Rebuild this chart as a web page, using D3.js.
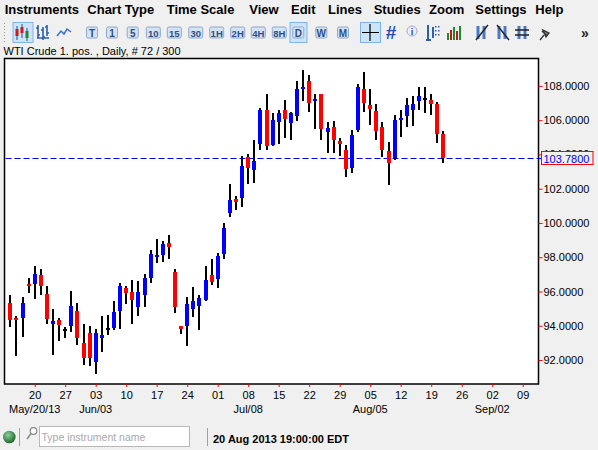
<!DOCTYPE html>
<html lang="en">
<head>
<meta charset="utf-8">
<title>WTI Crude 1. pos. , Daily</title>
<style>
  html,body { margin:0; padding:0; overflow:hidden; background:#f0f0f0; }
  svg { display:block; font-family:"Liberation Sans", Arial, sans-serif; }
  .menu text { font-size:13px; font-weight:bold; fill:#000; }
  .axis text { font-size:11px; fill:#000; font-family:"Liberation Sans", Arial, sans-serif; }
  .axis line { stroke:#ff0000; }
  .axis path { display:none; }
</style>
<script src="https://d3js.org/d3.v7.min.js"></script>
</head>
<body>
<svg width="598" height="450"></svg>
<script>
// ---- data (daily WTI bars, 14 May 2013 .. 21 Aug 2013) ----
const firstDay = "2013-05-14";
const lastSlot = "2013-09-09";   // axis runs a few weeks past the last bar

const opens  = [95.34,94.47,94.45,96.45,96.45,96.96,95.87,94.12,94.35,93.79,
                94.00,94.86,92.99,93.58,91.91,93.30,93.85,93.89,94.88,96.20,
                95.99,95.07,95.81,96.80,98.05,98.12,98.82,97.13,93.98,94.00,
                94.99,95.17,95.50,96.96,96.70,98.16,100.59,101.38,101.46,103.83,
                103.08,104.59,106.57,104.53,105.89,106.57,105.83,106.22,107.82,108.26,
                107.12,107.54,105.29,105.60,104.79,104.28,103.23,105.41,107.83,106.86,
                106.53,105.60,104.20,103.81,105.99,106.22,106.57,107.12,107.31,107.15,
                106.96,105.17];
const highs  = [95.79,94.55,95.69,96.78,97.50,97.30,96.32,94.99,94.47,93.91,
                96.02,95.34,94.10,93.99,93.79,94.57,94.63,95.44,96.49,96.33,
                96.65,96.59,97.01,98.40,99.05,98.96,99.29,97.33,93.98,95.66,
                96.27,95.79,97.48,97.91,98.22,99.97,102.26,101.56,103.89,104.01,
                104.86,106.73,107.50,106.42,106.61,107.19,106.47,108.28,108.94,108.61,
                107.54,107.54,105.87,105.95,104.98,104.53,105.41,108.09,108.81,107.83,
                106.95,105.89,104.75,106.28,106.57,107.29,107.39,107.93,107.93,107.54,
                107.06,105.37];
const lows   = [93.94,92.24,93.32,95.89,95.56,95.79,94.10,92.30,93.13,93.29,
                93.62,92.90,91.71,91.67,91.17,92.49,93.46,93.75,93.79,95.29,
                94.12,94.59,95.11,96.51,97.67,97.73,97.87,94.72,93.52,92.84,
                94.50,93.75,95.44,96.37,96.18,97.87,100.36,100.75,100.94,102.30,
                102.34,104.24,104.28,104.47,104.63,104.98,104.82,105.95,107.12,106.47,
                105.46,104.82,104.09,104.09,103.89,102.69,102.94,105.31,106.47,105.70,
                104.86,103.85,102.20,103.70,105.02,105.60,105.64,106.61,106.42,106.28,
                104.67,103.50];
const closes = [94.33,94.42,95.35,96.40,97.01,96.32,94.37,94.29,94.06,93.79,
                95.15,93.30,92.14,92.14,93.58,93.46,93.85,94.80,96.32,95.93,
                95.52,95.97,96.78,98.18,98.15,98.76,98.61,95.11,93.83,95.27,
                95.44,95.64,96.67,96.57,98.06,99.70,101.33,101.21,103.31,103.21,
                103.60,106.57,104.47,105.99,106.42,106.09,106.42,107.83,107.93,107.00,
                107.25,105.46,105.52,104.82,104.59,103.13,105.12,107.93,107.00,106.63,
                105.37,104.24,103.50,106.03,106.15,106.86,106.96,107.39,107.31,106.96,
                105.17,103.78];

const lastPrice = 103.78;
const yTicks = [92, 94, 96, 98, 100, 102, 104, 106, 108];
const monthLabels     = ["May/20/13", "Jun/03", "Jul/08", "Aug/05", "Sep/02"];
const monthLabelDates = ["2013-05-20", "2013-06-03", "2013-07-08", "2013-08-05", "2013-09-02"];

const menuItems = ["Instruments","Chart Type","Time Scale","View","Edit","Lines","Studies","Zoom","Settings","Help"];
const menuX     = [4.7, 87.3, 166.7, 249.3, 291, 328, 373.7, 429, 475.3, 535.3];
const intervalButtons = ["T","1","5","10","15","30","1H","2H","4H","8H","D","W","M"];
const intervalX       = [92, 112, 132.7, 153.3, 174.3, 195.7, 216.7, 237.7, 258.3, 279.3, 298.3, 321.3, 343];

const title = "WTI Crude 1. pos. , Daily, # 72 / 300";
const statusText = "20 Aug 2013 19:00:00 EDT";

// ---- layout ----
const plot = { left: 4.5, top: 58.5, right: 538.5, bottom: 384 };
const svg = d3.select("svg");
const parse = d3.utcParse("%Y-%m-%d");

const slots = d3.utcDays(parse(firstDay), d3.utcDay.offset(parse(lastSlot), 1))
  .filter(d => d.getUTCDay() % 6 !== 0);

const bars = closes.map((c, i) => ({
  date: slots[i], open: opens[i], high: highs[i], low: lows[i], close: c
}));

const x = d3.scalePoint().domain(slots).range([10.3, 522.7]);
const y = d3.scaleLinear().domain([90.6, 109.6]).range([plot.bottom, plot.top]);

/* -------- menu bar -------- */
svg.append("g").attr("class", "menu")
  .selectAll("text").data(menuItems).join("text")
    .attr("x", (d, i) => menuX[i]).attr("y", 14)
    .text(d => d);

/* -------- toolbar -------- */
const tb = svg.append("g");
// grip
d3.range(23, 42, 3).forEach(yy =>
  tb.append("rect").attr("x", 4).attr("y", yy).attr("width", 1).attr("height", 1).attr("fill", "#9a9a9a"));

function selBox(x0, x1) {
  tb.append("rect").attr("x", x0 + 0.5).attr("y", 22.5).attr("width", x1 - x0).attr("height", 20)
    .attr("fill", "#cce4f7").attr("stroke", "#7eb4ea");
}
selBox(12.5, 32.5);
selBox(289.5, 306.5);
selBox(360, 380);

// candlestick icon
[[17, 26, 40, 29, 36, "#d01818"], [22, 24, 38, 27, 33, "#d01818"], [27, 28, 41, 31, 38, "#1f8a2a"]]
  .forEach(([cx, t, b, bt, bb, col]) => {
    tb.append("line").attr("x1", cx).attr("x2", cx).attr("y1", t).attr("y2", b).attr("stroke", "#2050a0");
    tb.append("rect").attr("x", cx - 1.5).attr("y", bt).attr("width", 3).attr("height", bb - bt).attr("fill", col);
  });
// ohlc bars icon
tb.append("path").attr("d", "M38,25V38M36,28H38M38,35H40M43,27V40M41,30H43M43,37H45M47,25V36M45,27H47M47,33H49M37,38H49")
  .attr("stroke", "#2b5fb0").attr("stroke-width", 1.6).attr("fill", "none");
// line icon
tb.append("path").attr("d", "M57,36L61,31L64,34L67,29L71,32")
  .attr("stroke", "#3b6fc0").attr("stroke-width", 1.5).attr("fill", "none");

// interval buttons
const btn = tb.selectAll("g.btn").data(intervalButtons).join("g")
  .attr("transform", (d, i) => `translate(${intervalX[i]},32.5)`);
btn.append("rect")
  .attr("x", d => d.length > 1 ? -7 : -5.5).attr("y", -5.5)
  .attr("width", d => d.length > 1 ? 14 : 11).attr("height", 11).attr("rx", 1.5)
  .attr("fill", "#d4e2f2").attr("stroke", "#8ea9cc");
btn.append("text")
  .attr("text-anchor", "middle").attr("y", 4)
  .attr("font-size", d => d.length > 1 ? 9.5 : 10).attr("font-weight", "bold")
  .attr("fill", "#2e4f86").text(d => d);

// crosshair
tb.append("path").attr("d", "M370,24V41M362,32.5H379").attr("stroke", "#000").attr("stroke-width", 1.2);
// grid #
tb.append("text").attr("x", 391).attr("y", 39).attr("text-anchor", "middle")
  .attr("font-size", 19).attr("font-weight", "bold").attr("fill", "#1c50b0").text("#");
// info balloon
tb.append("circle").attr("cx", 412).attr("cy", 31).attr("r", 5).attr("fill", "#eef").attr("stroke", "#aab");
tb.append("text").attr("x", 412).attr("y", 34.5).attr("text-anchor", "middle").attr("font-size", 9)
  .attr("font-weight", "bold").attr("fill", "#2040c0").text("i");
// levels icon
tb.append("path").attr("d", "M428,25V40M426,40H431M433,27V38")
  .attr("stroke", "#2b5fb0").attr("stroke-width", 2).attr("fill", "none");
[[435, 26], [438, 26], [435, 30], [438, 30], [435, 34], [438, 34]].forEach(([a, b]) =>
  tb.append("rect").attr("x", a).attr("y", b).attr("width", 1.5).attr("height", 1.5).attr("fill", "#2b5fb0"));
// volume icon
[[447, 33, "#1f8a2a"], [450, 30, "#c01818"], [453, 27, "#1f8a2a"], [456, 31, "#c01818"], [459, 26, "#1f8a2a"]]
  .forEach(([a, t, c]) => tb.append("rect").attr("x", a).attr("y", t).attr("width", 2).attr("height", 40 - t).attr("fill", c));
// drawing tools
[[481, "M478,26V39M484,26V39", "M476,40L488,25"],
 [502, "M499,26V39M505,26V39", "M497,25L509,40"],
 [522, "M519,26V39M525,26V39", "M515,30H529M515,35H529"]].forEach(([cx, bars2, ln]) => {
  tb.append("path").attr("d", bars2).attr("stroke", "#4a78c8").attr("stroke-width", 3);
  tb.append("path").attr("d", ln).attr("stroke", "#222").attr("stroke-width", 1.4);
});
// pin
tb.append("path").attr("d", "M540,40L544,35M542,31L547,36M543,30L549,33L546,37Z")
  .attr("stroke", "#333").attr("stroke-width", 1.3).attr("fill", "#777");
tb.append("text").attr("x", 585).attr("y", 38).attr("text-anchor", "middle")
  .attr("font-size", 14).attr("font-weight", "bold").attr("fill", "#222").text("»");

/* -------- chart title -------- */
svg.append("text").attr("x", 3.5).attr("y", 55).attr("font-size", 11).attr("fill", "#000").text(title);

/* -------- plot area -------- */
svg.append("rect")
  .attr("x", plot.left).attr("y", plot.top)
  .attr("width", plot.right - plot.left).attr("height", plot.bottom - plot.top)
  .attr("fill", "#fff").attr("stroke", "#000").attr("stroke-width", 1.5);

// last price line
const yl = Math.round(y(lastPrice)) + 0.5;
svg.append("line").attr("x1", plot.left + 1).attr("x2", plot.right).attr("y1", yl).attr("y2", yl)
  .attr("stroke", "#0000ff").attr("stroke-width", 1.2).attr("stroke-dasharray", "6,3");
svg.append("line").attr("x1", plot.right).attr("x2", 541).attr("y1", yl).attr("y2", yl)
  .attr("stroke", "#0000ff").attr("stroke-width", 1.2);

// candles
const candle = svg.append("g").attr("shape-rendering", "crispEdges")
  .selectAll("g").data(bars).join("g");
candle.append("rect")
  .attr("x", d => Math.round(x(d.date)) - 1).attr("width", 2)
  .attr("y", d => y(d.high)).attr("height", d => y(d.low) - y(d.high))
  .attr("fill", "#000");
candle.append("rect")
  .attr("x", d => Math.round(x(d.date)) - 2).attr("width", 4)
  .attr("y", d => y(Math.max(d.open, d.close)))
  .attr("height", d => Math.max(2, Math.abs(y(d.open) - y(d.close))))
  .attr("fill", d => d.close > d.open ? "#0000ff" : d.close < d.open ? "#ff0000" : "#000");

/* -------- axes -------- */
const mondays = slots.filter(d => d.getUTCDay() === 1);
svg.append("g").attr("class", "axis")
  .attr("transform", `translate(0,${plot.bottom})`)
  .call(d3.axisBottom(x).tickValues(mondays).tickFormat(d3.utcFormat("%d")).tickSize(3).tickPadding(4));

svg.append("g").attr("class", "axis")
  .selectAll("text").data(monthLabels).join("text")
    .attr("x", (d, i) => x(parse(monthLabelDates[i])))
    .attr("y", 413).attr("text-anchor", "middle").text(d => d);

svg.append("g").attr("class", "axis")
  .attr("transform", `translate(${plot.right},0)`)
  .call(d3.axisRight(y).tickValues(yTicks).tickFormat(d3.format(".4f")).tickSize(4).tickPadding(1));

// last price box (covers most of the 104.0000 label, as in the platform)
svg.append("rect").attr("x", 541.5).attr("y", 151.5).attr("width", 51.5).attr("height", 13)
  .attr("fill", "#f0f0f0").attr("stroke", "#ff0000");
svg.append("text").attr("x", 543.5).attr("y", yl + 4).attr("font-size", 11).attr("fill", "#0000ff")
  .text(d3.format(".4f")(lastPrice));

/* -------- status bar -------- */
const sb = svg.append("g");
const grad = svg.append("defs").append("radialGradient").attr("id", "ball")
  .attr("cx", "40%").attr("cy", "35%").attr("r", "65%");
grad.append("stop").attr("offset", "0%").attr("stop-color", "#8fd09a");
grad.append("stop").attr("offset", "100%").attr("stop-color", "#1d6a2c");
sb.append("circle").attr("cx", 9.3).attr("cy", 437).attr("r", 6.3).attr("fill", "url(#ball)");
sb.append("line").attr("x1", 19.5).attr("x2", 19.5).attr("y1", 428).attr("y2", 446).attr("stroke", "#a0a0a0");
sb.append("line").attr("x1", 207.5).attr("x2", 207.5).attr("y1", 428).attr("y2", 446).attr("stroke", "#a0a0a0");
sb.append("rect").attr("x", 39.5).attr("y", 426.5).attr("width", 150).attr("height", 20)
  .attr("fill", "#fff").attr("stroke", "#b8b8b8");
sb.append("circle").attr("cx", 33.5).attr("cy", 431).attr("r", 3.3).attr("fill", "#fff").attr("stroke", "#8a8a8a").attr("stroke-width", 1.2);
sb.append("line").attr("x1", 31).attr("y1", 433.5).attr("x2", 27).attr("y2", 439).attr("stroke", "#8a8a8a").attr("stroke-width", 1.5);
sb.append("text").attr("x", 41.5).attr("y", 441).attr("font-size", 10.5).attr("fill", "#a8a8a8").text("Type instrument name");
sb.append("text").attr("x", 213).attr("y", 443).attr("font-size", 11).attr("font-weight", "bold")
  .attr("fill", "#000").text(statusText);
</script>
</body>
</html>
